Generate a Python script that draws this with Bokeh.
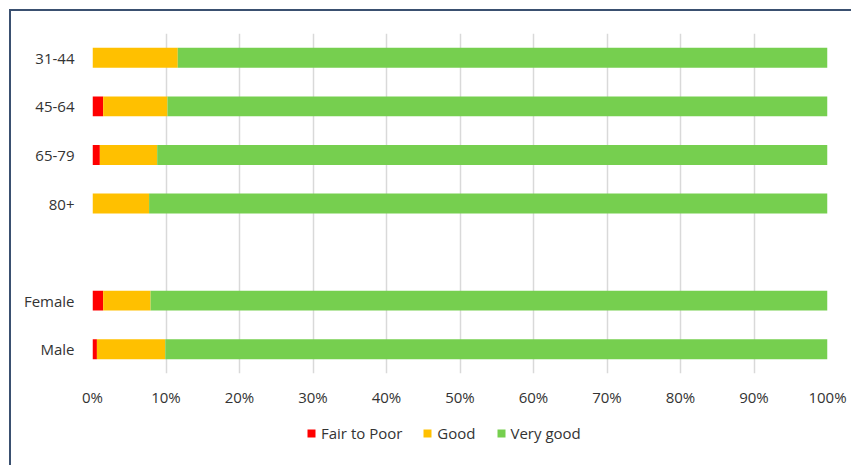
from bokeh.plotting import figure
from bokeh.layouts import column
from bokeh.models import (ColumnDataSource, FactorRange, Range1d, FixedTicker,
                          Legend, InlineStyleSheet)
from bokeh.embed import file_html
from bokeh.resources import INLINE

# ---- data (percent of respondents) ----
categories = ["31-44", "45-64", "65-79", "80+", "Female", "Male"]
fair_to_poor = [0.0, 1.45, 1.0, 0.0, 1.45, 0.6]
good = [11.6, 8.75, 7.8, 7.7, 6.45, 9.3]
very_good = [88.4, 89.8, 91.2, 92.3, 92.1, 90.1]
series_names = ["Fair to Poor", "Good", "Very good"]
series_colors = ["#FF0000", "#FFC000", "#76CF4F"]
x_ticks = [0, 10, 20, 30, 40, 50, 60, 70, 80, 90, 100]

# y factors: age groups, an empty spacer slot, then sexes (top to bottom)
factors_top_down = categories[:4] + [" "] + categories[4:]

source = ColumnDataSource(dict(cat=categories,
                               **{"Fair to Poor": fair_to_poor,
                                  "Good": good,
                                  "Very good": very_good}))

FONT = "Open Sans"
TXT = "#333333"

p = figure(width=851, height=410, output_backend="svg", toolbar_location=None,
           y_range=FactorRange(factors=list(reversed(factors_top_down))),
           x_range=Range1d(0, 100),
           min_border_left=92, min_border_right=24,
           min_border_top=33, min_border_bottom=37)

p.hbar_stack(series_names, y="cat", height=0.41, color=series_colors,
             line_color=None, source=source)

p.background_fill_color = "white"
p.border_fill_color = "white"
p.outline_line_color = None

# x axis
p.xaxis.ticker = FixedTicker(ticks=x_ticks)
p.xaxis.major_label_overrides = {t: f"{t}%" for t in x_ticks}
p.xaxis.axis_line_color = None
p.xaxis.major_tick_line_color = None
p.xaxis.minor_tick_line_color = None
p.xaxis.major_label_standoff = 7
p.xaxis.major_label_text_font = FONT
p.xaxis.major_label_text_font_size = "15px"
p.xaxis.major_label_text_color = TXT

# y axis
p.yaxis.axis_line_color = None
p.yaxis.major_tick_line_color = None
p.yaxis.major_label_standoff = 12
p.yaxis.major_label_text_font = FONT
p.yaxis.major_label_text_font_size = "15px"
p.yaxis.major_label_text_color = TXT

# grid
p.xgrid.ticker = FixedTicker(ticks=x_ticks)
p.xgrid.grid_line_color = "#D9D9D9"
p.xgrid.grid_line_width = 1.5
p.ygrid.grid_line_color = None

# ---- legend strip (separate small figure below the chart) ----
pl = figure(width=851, height=55, output_backend="svg", toolbar_location=None,
            x_axis_type=None, y_axis_type=None,
            x_range=Range1d(0, 1), y_range=Range1d(0, 1),
            min_border=0)
pl.outline_line_color = None
pl.background_fill_color = "white"
pl.border_fill_color = "white"
# proxy renderers placed outside the visible range: only their legend swatches show
leg_renderers = [pl.hbar(y=[-5], left=[-6], right=[-5], height=0.1,
                         fill_color=c, line_color=None) for c in series_colors]
legend = Legend(items=[(n, [r]) for n, r in zip(series_names, leg_renderers)],
                orientation="horizontal", location=(214, 22),
                glyph_width=10, glyph_height=10, label_standoff=5, spacing=20,
                padding=0, margin=0, border_line_color=None,
                background_fill_alpha=0,
                label_text_font=FONT, label_text_font_size="15px",
                label_text_color=TXT)
pl.add_layout(legend, "center")

layout = column(p, pl, spacing=0)
layout.stylesheets = [InlineStyleSheet(css="""
:host { position: relative; }
:host::after { content: ''; position: absolute; left: 9px; top: 9px; right: 0; bottom: 0;
  border-top: 2px solid #3A5070; border-left: 2px solid #3A5070; pointer-events: none; }
""")]

open("out.html", "w").write(file_html(layout, INLINE))
